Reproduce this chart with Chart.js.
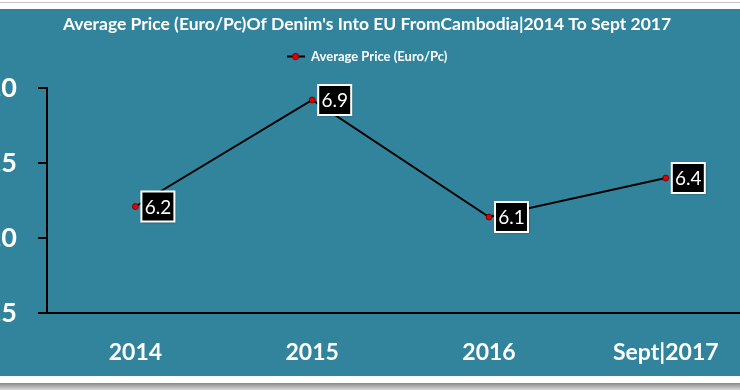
<!DOCTYPE html>
<html>
<head>
<meta charset="utf-8">
<script src="https://cdn.jsdelivr.net/npm/chart.js@4.4.1/dist/chart.umd.min.js"></script>
<style>
  html, body { margin: 0; padding: 0; width: 740px; height: 390px; overflow: hidden; background: #ffffff; position: relative; }
  #topline { position: absolute; left: 0; top: 2px; width: 740px; height: 1px; background: #c4c4c4; }
  #shadow { position: absolute; left: 0; top: 383px; width: 740px; height: 7px; background: linear-gradient(#8a8a8a, #d8d8d8); }
  #c { position: absolute; left: -25px; top: 9px; background: #31849B; }
</style>
</head>
<body>
<div id="topline"></div>
<canvas id="c" width="784" height="367"></canvas>
<div id="shadow"></div>
<script>
const categories = ['2014', '2015', '2016', 'Sept|2017'];
const avgPrice = [6.21, 6.92, 6.14, 6.40];
const seriesName = 'Average Price (Euro/Pc)';
const chartTitle = "Average Price (Euro/Pc)Of Denim's Into EU FromCambodia|2014 To Sept 2017";
const yMin = 5.5, yMax = 7.0, yStep = 0.5;

const FONT = 'Lato, "Open Sans", sans-serif';

// legend marker: black line with red dot
const legendMarker = document.createElement('canvas');
legendMarker.width = 18; legendMarker.height = 9;
(function () {
  const g = legendMarker.getContext('2d');
  g.strokeStyle = '#000'; g.lineWidth = 2;
  g.beginPath(); g.moveTo(0, 4.5); g.lineTo(18, 4.5); g.stroke();
  g.fillStyle = '#e00000'; g.strokeStyle = '#600000'; g.lineWidth = 0.8;
  g.beginPath(); g.arc(9, 4.5, 3.2, 0, Math.PI * 2); g.fill(); g.stroke();
})();

const legendSpacer = {
  id: 'legendSpacer',
  beforeInit(chart) {
    const origFit = chart.legend.fit;
    chart.legend.fit = function () {
      origFit.call(this);
      this.height += 15;
    };
  }
};

const boxLabels = {
  id: 'boxLabels',
  afterDatasetsDraw(chart) {
    const ctx = chart.ctx;
    const meta = chart.getDatasetMeta(0);
    const data = chart.data.datasets[0].data;
    ctx.save();
    ctx.font = '19px ' + FONT;
    ctx.textAlign = 'center';
    ctx.textBaseline = 'middle';
    meta.data.forEach((pt, i) => {
      const txt = Number(data[i]).toFixed(1);
      const w = 33, h = 30;
      const x0 = pt.x + 6, y0 = pt.y - h / 2;
      ctx.shadowColor = 'rgba(0,0,0,0.35)';
      ctx.shadowBlur = 2; ctx.shadowOffsetX = 1; ctx.shadowOffsetY = 1;
      ctx.fillStyle = '#000';
      ctx.fillRect(x0, y0, w, h);
      ctx.shadowColor = 'transparent';
      ctx.strokeStyle = '#ffffff';
      ctx.lineWidth = 2;
      ctx.strokeRect(x0, y0, w, h);
      ctx.fillStyle = '#ffffff';
      ctx.fillText(txt, x0 + w / 2, pt.y + 1);
    });
    ctx.restore();
  }
};

new Chart(document.getElementById('c'), {
  type: 'line',
  data: {
    labels: categories,
    datasets: [{
      label: seriesName,
      data: avgPrice,
      borderColor: '#000000',
      borderWidth: 2,
      backgroundColor: '#e00000',
      pointBackgroundColor: '#e00000',
      pointBorderColor: '#600000',
      pointBorderWidth: 0.8,
      pointRadius: 3,
      tension: 0,
      fill: false
    }]
  },
  options: {
    responsive: false,
    animation: false,
    devicePixelRatio: 1,
    layout: { padding: { left: 0, right: 0, top: 0, bottom: 12 } },
    plugins: {
      title: {
        display: true,
        text: chartTitle,
        color: '#ffffff',
        font: { family: FONT, size: 17.5, weight: 'bold' },
        padding: { top: 5, bottom: 5 }
      },
      legend: {
        display: true,
        labels: {
          color: '#ffffff',
          font: { family: FONT, size: 13, weight: 'bold' },
          usePointStyle: true,
          pointStyleWidth: 18,
          boxHeight: 9,
          padding: 10,
          generateLabels(chart) {
            return [{ text: seriesName, pointStyle: legendMarker, fontColor: '#ffffff', datasetIndex: 0, hidden: false, lineWidth: 0 }];
          }
        }
      },
      tooltip: { enabled: false }
    },
    scales: {
      x: {
        offset: true,
        afterFit(scale) { scale.height = 51; },
        grid: { display: false, drawTicks: false },
        border: { display: true, color: '#000000', width: 2 },
        ticks: { color: '#ffffff', font: { family: FONT, size: 23, weight: 'bold' }, padding: 26, maxRotation: 0 }
      },
      y: {
        min: yMin, max: yMax,
        afterFit(scale) { scale.width = 72; },
        grid: { display: true, drawOnChartArea: false, drawTicks: true, tickLength: 9, color: '#000000', lineWidth: 2 },
        border: { display: true, color: '#000000', width: 2 },
        ticks: {
          stepSize: yStep,
          color: '#ffffff',
          font: { family: FONT, size: 27, weight: 'bold' },
          padding: 21,
          callback: (v) => Number(v).toFixed(1)
        }
      }
    }
  },
  plugins: [legendSpacer, boxLabels]
});
</script>
</body>
</html>
